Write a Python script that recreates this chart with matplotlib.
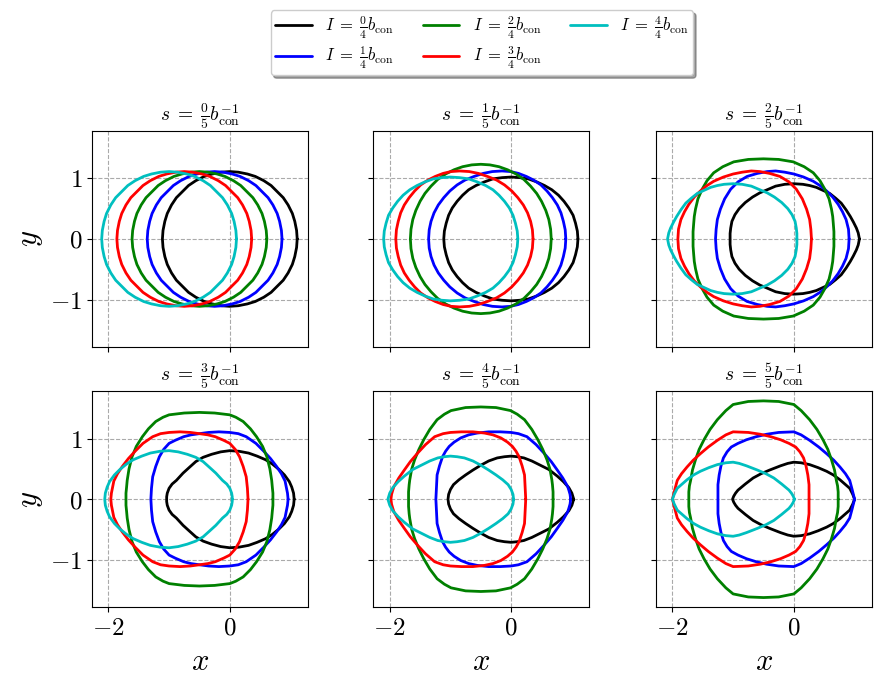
import matplotlib
matplotlib.use('Agg')
import matplotlib.pyplot as plt

plt.rcParams['mathtext.fontset'] = 'cm'
plt.rcParams['font.family'] = 'serif'

# order of curves in every panel: I = 0/4, 1/4, 2/4, 3/4, 4/4
colors = ['k', 'b', 'g', 'r', 'c']
i_labels = [r'$I\;=\;\frac{%d}{4}b_{\rm con}$' % k for k in range(5)]
s_titles = [r'$s\;=\;\frac{%d}{5}b_{\rm con}^{-1}$' % k for k in range(6)]

# upper halves of the closed curves (right end -> left end)
circ_y = [0, 0.14, 0.29, 0.42, 0.56, 0.68, 0.78, 0.88, 0.96, 1.03, 1.07, 1.10, 1.11,
          1.10, 1.07, 1.03, 0.96, 0.88, 0.78, 0.68, 0.56, 0.42, 0.29, 0.14, 0]
x_s0 = [[1.11, 1.10, 1.07, 1.03, 0.96, 0.88, 0.78, 0.68, 0.56, 0.42, 0.29, 0.14, 0.00,
         -0.14, -0.29, -0.42, -0.56, -0.68, -0.78, -0.88, -0.96, -1.03, -1.07, -1.10, -1.11],
        [0.86, 0.85, 0.82, 0.78, 0.71, 0.63, 0.53, 0.43, 0.31, 0.17, 0.04, -0.11, -0.25,
         -0.39, -0.54, -0.67, -0.81, -0.93, -1.03, -1.13, -1.21, -1.28, -1.32, -1.35, -1.36],
        [0.61, 0.60, 0.57, 0.53, 0.46, 0.38, 0.28, 0.18, 0.06, -0.08, -0.21, -0.36, -0.50,
         -0.64, -0.79, -0.92, -1.06, -1.18, -1.28, -1.38, -1.46, -1.53, -1.57, -1.60, -1.61],
        [0.36, 0.35, 0.32, 0.28, 0.21, 0.13, 0.03, -0.07, -0.19, -0.33, -0.46, -0.61, -0.75,
         -0.89, -1.04, -1.17, -1.31, -1.43, -1.53, -1.63, -1.71, -1.78, -1.82, -1.85, -1.86],
        [0.11, 0.10, 0.07, 0.03, -0.04, -0.12, -0.22, -0.32, -0.44, -0.58, -0.71, -0.86, -1.00,
         -1.14, -1.29, -1.42, -1.56, -1.68, -1.78, -1.88, -1.96, -2.03, -2.07, -2.10, -2.11]]
y_s0 = [circ_y] * 5

x_s1 = [[1.10, 1.09, 1.06, 1.02, 0.95, 0.87, 0.78, 0.67, 0.55, 0.42, 0.28, 0.14, 0.00,
         -0.15, -0.30, -0.44, -0.58, -0.70, -0.80, -0.89, -0.97, -1.03, -1.07, -1.10, -1.11],
        [0.90, 0.89, 0.86, 0.82, 0.76, 0.68, 0.59, 0.49, 0.37, 0.25, 0.12, -0.01, -0.15,
         -0.31, -0.46, -0.61, -0.76, -0.89, -1.01, -1.11, -1.20, -1.27, -1.32, -1.35, -1.36],
        [0.66, 0.65, 0.62, 0.57, 0.50, 0.42, 0.32, 0.21, 0.08, -0.06, -0.20, -0.35, -0.50,
         -0.65, -0.80, -0.94, -1.08, -1.21, -1.32, -1.42, -1.50, -1.57, -1.62, -1.65, -1.66],
        [0.36, 0.35, 0.32, 0.27, 0.20, 0.11, 0.01, -0.11, -0.24, -0.39, -0.54, -0.69, -0.85,
         -0.99, -1.12, -1.25, -1.37, -1.49, -1.59, -1.68, -1.76, -1.82, -1.86, -1.89, -1.90],
        [0.11, 0.10, 0.07, 0.03, -0.03, -0.11, -0.20, -0.30, -0.42, -0.56, -0.70, -0.85, -1.00,
         -1.14, -1.28, -1.42, -1.55, -1.67, -1.78, -1.87, -1.95, -2.02, -2.06, -2.09, -2.10]]
y_s1 = [[0, 0.13, 0.26, 0.39, 0.51, 0.62, 0.72, 0.81, 0.88, 0.94, 0.99, 1.01, 1.02,
         1.01, 0.99, 0.94, 0.88, 0.81, 0.72, 0.62, 0.51, 0.39, 0.26, 0.13, 0],
        [0, 0.15, 0.29, 0.43, 0.56, 0.68, 0.79, 0.89, 0.97, 1.03, 1.08, 1.11, 1.12,
         1.11, 1.08, 1.03, 0.97, 0.89, 0.79, 0.68, 0.56, 0.43, 0.29, 0.15, 0],
        [0, 0.16, 0.32, 0.47, 0.62, 0.75, 0.87, 0.98, 1.07, 1.14, 1.19, 1.22, 1.23,
         1.22, 1.19, 1.14, 1.07, 0.98, 0.87, 0.75, 0.62, 0.47, 0.32, 0.16, 0],
        [0, 0.15, 0.29, 0.43, 0.56, 0.68, 0.79, 0.89, 0.97, 1.03, 1.08, 1.11, 1.12,
         1.11, 1.08, 1.03, 0.97, 0.89, 0.79, 0.68, 0.56, 0.43, 0.29, 0.15, 0],
        [0, 0.13, 0.26, 0.39, 0.51, 0.62, 0.72, 0.81, 0.88, 0.94, 0.99, 1.01, 1.02,
         1.01, 0.99, 0.94, 0.88, 0.81, 0.72, 0.62, 0.51, 0.39, 0.26, 0.13, 0]]

x_s2 = [[1.08, 1.06, 1.03, 0.98, 0.93, 0.86, 0.78, 0.69, 0.59, 0.48, 0.37, 0.26, 0.15, 0.00,
         -0.15, -0.30, -0.44, -0.56, -0.68, -0.80, -0.90, -0.97, -1.02, -1.04, -1.05, -1.05],
        [0.91, 0.90, 0.86, 0.80, 0.73, 0.64, 0.54, 0.43, 0.32, 0.16, 0.00, -0.15, -0.30,
         -0.44, -0.60, -0.77, -0.92, -1.04, -1.14, -1.21, -1.26, -1.28, -1.29],
        [0.66, 0.66, 0.65, 0.64, 0.62, 0.58, 0.51, 0.43, 0.32, 0.17, -0.01, -0.25, -0.50,
         -0.75, -0.99, -1.17, -1.32, -1.43, -1.51, -1.58, -1.62, -1.64, -1.65, -1.66, -1.66],
        [0.29, 0.28, 0.26, 0.21, 0.14, 0.04, -0.08, -0.23, -0.40, -0.56, -0.70, -0.85, -1.00,
         -1.16, -1.32, -1.43, -1.54, -1.64, -1.73, -1.80, -1.86, -1.90, -1.91],
        [0.05, 0.05, 0.04, 0.02, -0.03, -0.10, -0.20, -0.32, -0.44, -0.56, -0.70, -0.85, -1.00,
         -1.15, -1.26, -1.37, -1.48, -1.59, -1.69, -1.78, -1.86, -1.93, -1.98, -2.03, -2.06, -2.08]]
y_s2 = [[0, 0.10, 0.18, 0.28, 0.37, 0.48, 0.59, 0.67, 0.75, 0.80, 0.85, 0.88, 0.90, 0.91,
         0.90, 0.87, 0.81, 0.76, 0.69, 0.60, 0.50, 0.40, 0.29, 0.18, 0.09, 0],
        [0, 0.16, 0.32, 0.45, 0.57, 0.69, 0.79, 0.88, 0.95, 1.02, 1.07, 1.10, 1.12,
         1.11, 1.08, 1.03, 0.94, 0.82, 0.66, 0.49, 0.32, 0.16, 0],
        [0, 0.12, 0.25, 0.37, 0.49, 0.66, 0.82, 0.96, 1.09, 1.19, 1.27, 1.31, 1.32,
         1.31, 1.27, 1.19, 1.09, 0.96, 0.82, 0.66, 0.49, 0.37, 0.25, 0.12, 0],
        [0, 0.16, 0.32, 0.49, 0.66, 0.82, 0.94, 1.03, 1.08, 1.11, 1.12, 1.10, 1.07,
         1.02, 0.95, 0.88, 0.79, 0.69, 0.57, 0.45, 0.32, 0.16, 0],
        [0, 0.09, 0.18, 0.29, 0.40, 0.50, 0.60, 0.69, 0.76, 0.81, 0.87, 0.90, 0.91,
         0.90, 0.88, 0.85, 0.80, 0.75, 0.67, 0.59, 0.48, 0.37, 0.28, 0.18, 0.10, 0]]

x_s3 = [[1.06, 1.05, 1.02, 0.98, 0.90, 0.81, 0.70, 0.59, 0.45, 0.31, 0.15, 0.00,
         -0.15, -0.30, -0.44, -0.56, -0.66, -0.77, -0.88, -0.95, -1.00, -1.03, -1.04, -1.04],
        [0.96, 0.95, 0.93, 0.91, 0.85, 0.77, 0.67, 0.56, 0.43, 0.27, 0.14, 0.00, -0.18,
         -0.35, -0.50, -0.64, -0.76, -0.90, -1.00, -1.09, -1.16, -1.22, -1.27, -1.29, -1.30],
        [0.71, 0.71, 0.70, 0.69, 0.66, 0.61, 0.54, 0.44, 0.34, 0.22, 0.10, 0.00, -0.25, -0.50,
         -0.75, -1.00, -1.10, -1.22, -1.34, -1.44, -1.54, -1.61, -1.66, -1.69, -1.70, -1.71, -1.71],
        [0.30, 0.29, 0.27, 0.22, 0.16, 0.09, 0.00, -0.10, -0.24, -0.36, -0.50, -0.65, -0.82,
         -1.00, -1.14, -1.27, -1.43, -1.56, -1.67, -1.77, -1.85, -1.91, -1.93, -1.95, -1.96],
        [0.04, 0.04, 0.03, 0.00, -0.05, -0.12, -0.23, -0.34, -0.44, -0.56, -0.70, -0.85, -1.00,
         -1.15, -1.31, -1.45, -1.59, -1.70, -1.81, -1.90, -1.98, -2.02, -2.05, -2.06]]
y_s3 = [[0, 0.10, 0.20, 0.29, 0.40, 0.49, 0.58, 0.65, 0.71, 0.76, 0.79, 0.80,
         0.78, 0.74, 0.69, 0.62, 0.53, 0.43, 0.31, 0.25, 0.18, 0.10, 0.04, 0],
        [0, 0.10, 0.20, 0.30, 0.42, 0.54, 0.67, 0.79, 0.92, 1.03, 1.08, 1.10, 1.11,
         1.10, 1.08, 1.06, 1.03, 0.97, 0.92, 0.82, 0.70, 0.54, 0.37, 0.18, 0],
        [0, 0.10, 0.20, 0.31, 0.50, 0.70, 0.87, 1.03, 1.16, 1.28, 1.35, 1.39, 1.42, 1.43,
         1.42, 1.39, 1.35, 1.28, 1.16, 1.03, 0.87, 0.70, 0.50, 0.31, 0.20, 0.10, 0],
        [0, 0.18, 0.37, 0.54, 0.70, 0.82, 0.92, 0.97, 1.03, 1.06, 1.08, 1.10, 1.11,
         1.10, 1.08, 1.03, 0.92, 0.79, 0.67, 0.54, 0.42, 0.30, 0.20, 0.10, 0],
        [0, 0.04, 0.10, 0.18, 0.25, 0.31, 0.43, 0.53, 0.62, 0.69, 0.74, 0.78, 0.80,
         0.79, 0.76, 0.71, 0.65, 0.58, 0.49, 0.40, 0.29, 0.20, 0.10, 0]]

x_s4 = [[1.03, 1.00, 0.95, 0.86, 0.76, 0.62, 0.48, 0.34, 0.21, 0.10, 0.00,
         -0.11, -0.23, -0.37, -0.50, -0.63, -0.75, -0.86, -0.95, -1.00, -1.03, -1.04],
        [0.98, 0.97, 0.95, 0.93, 0.85, 0.76, 0.66, 0.54, 0.41, 0.26, 0.12, 0.00, -0.18,
         -0.37, -0.56, -0.70, -0.83, -0.94, -1.02, -1.08, -1.13, -1.18, -1.22, -1.23, -1.24],
        [0.69, 0.69, 0.68, 0.67, 0.64, 0.59, 0.52, 0.44, 0.34, 0.22, 0.10, -0.01, -0.25, -0.50,
         -0.75, -0.99, -1.10, -1.22, -1.34, -1.44, -1.52, -1.59, -1.64, -1.67, -1.68, -1.69, -1.69],
        [0.24, 0.23, 0.22, 0.18, 0.13, 0.08, 0.02, -0.06, -0.17, -0.30, -0.44, -0.63, -0.82,
         -1.00, -1.12, -1.26, -1.41, -1.54, -1.66, -1.76, -1.85, -1.93, -1.95, -1.97, -1.98],
        [0.04, 0.03, 0.00, -0.05, -0.14, -0.25, -0.37, -0.50, -0.63, -0.77, -0.89,
         -1.00, -1.10, -1.21, -1.34, -1.48, -1.62, -1.76, -1.86, -1.95, -2.00, -2.03]]
y_s4 = [[0, 0.10, 0.19, 0.29, 0.38, 0.49, 0.56, 0.63, 0.68, 0.70, 0.71,
         0.70, 0.68, 0.63, 0.56, 0.48, 0.40, 0.32, 0.24, 0.16, 0.08, 0],
        [0, 0.08, 0.15, 0.21, 0.35, 0.48, 0.62, 0.76, 0.90, 1.03, 1.08, 1.10, 1.11,
         1.11, 1.09, 1.06, 1.01, 0.94, 0.87, 0.79, 0.70, 0.55, 0.40, 0.20, 0],
        [0, 0.12, 0.24, 0.32, 0.49, 0.65, 0.82, 0.98, 1.15, 1.31, 1.40, 1.46, 1.51, 1.52,
         1.51, 1.46, 1.40, 1.31, 1.15, 0.98, 0.82, 0.65, 0.49, 0.32, 0.24, 0.12, 0],
        [0, 0.20, 0.40, 0.55, 0.70, 0.79, 0.87, 0.94, 1.01, 1.06, 1.09, 1.11, 1.11,
         1.10, 1.08, 1.03, 0.90, 0.76, 0.62, 0.48, 0.35, 0.21, 0.15, 0.08, 0],
        [0, 0.08, 0.16, 0.24, 0.32, 0.40, 0.48, 0.56, 0.63, 0.68, 0.70,
         0.71, 0.70, 0.68, 0.63, 0.56, 0.49, 0.38, 0.29, 0.19, 0.10, 0]]

x_s5 = [[1.00, 0.97, 0.92, 0.84, 0.76, 0.65, 0.54, 0.40, 0.26, 0.12, 0.00,
         -0.10, -0.22, -0.40, -0.54, -0.67, -0.80, -0.92, -0.96, -0.99, -1.01],
        [1.00, 0.96, 0.92, 0.85, 0.76, 0.66, 0.54, 0.41, 0.26, 0.12, 0.00, -0.25,
         -0.45, -0.62, -0.78, -0.92, -1.03, -1.10, -1.16, -1.20, -1.23, -1.25, -1.25, -1.25],
        [0.73, 0.73, 0.72, 0.70, 0.67, 0.62, 0.56, 0.48, 0.38, 0.26, 0.12, 0.00, -0.25, -0.50,
         -0.75, -1.00, -1.12, -1.26, -1.38, -1.48, -1.56, -1.62, -1.67, -1.70, -1.72, -1.73, -1.73],
        [0.25, 0.25, 0.25, 0.23, 0.20, 0.16, 0.10, 0.03, -0.08, -0.22, -0.38, -0.55, -0.75,
         -1.00, -1.12, -1.26, -1.41, -1.54, -1.66, -1.76, -1.85, -1.92, -1.96, -2.00],
        [0.01, -0.01, -0.04, -0.08, -0.20, -0.33, -0.46, -0.60, -0.78, -0.90, -1.00,
         -1.12, -1.26, -1.40, -1.54, -1.65, -1.76, -1.84, -1.92, -1.97, -2.00]]
y_s5 = [[0, 0.08, 0.18, 0.25, 0.32, 0.40, 0.46, 0.52, 0.57, 0.60, 0.61,
         0.59, 0.55, 0.48, 0.42, 0.35, 0.25, 0.15, 0.10, 0.05, 0],
        [0, 0.16, 0.31, 0.42, 0.53, 0.64, 0.75, 0.86, 0.97, 1.06, 1.11, 1.10,
         1.07, 1.03, 0.98, 0.92, 0.86, 0.78, 0.68, 0.55, 0.40, 0.24, 0.12, 0],
        [0, 0.12, 0.22, 0.31, 0.48, 0.65, 0.82, 0.98, 1.15, 1.31, 1.46, 1.56, 1.61, 1.62,
         1.61, 1.56, 1.46, 1.31, 1.15, 0.98, 0.82, 0.65, 0.48, 0.31, 0.22, 0.12, 0],
        [0, 0.12, 0.24, 0.40, 0.55, 0.68, 0.78, 0.86, 0.92, 0.98, 1.03, 1.07, 1.10,
         1.11, 1.06, 0.97, 0.86, 0.75, 0.64, 0.53, 0.42, 0.31, 0.16, 0],
        [0, 0.05, 0.10, 0.15, 0.25, 0.35, 0.42, 0.48, 0.55, 0.59, 0.61,
         0.60, 0.57, 0.52, 0.46, 0.40, 0.32, 0.25, 0.18, 0.08, 0]]

panels_x = [x_s0, x_s1, x_s2, x_s3, x_s4, x_s5]
panels_y = [y_s0, y_s1, y_s2, y_s3, y_s4, y_s5]

fig = plt.figure(figsize=(8.87, 6.90), dpi=100)

lefts = [0.1037, 0.4209, 0.7396]
bottoms = [0.4971, 0.1199]
w, h = 0.2430, 0.3132

for k in range(6):
    row, col = divmod(k, 3)
    ax = fig.add_axes([lefts[col], bottoms[row], w, h])
    for xs, ys, c, lab in zip(panels_x[k], panels_y[k], colors, i_labels):
        # close the curve by mirroring the upper half into the lower one
        xx = list(xs) + list(xs[-2::-1])
        yy = list(ys) + [-v for v in ys[-2::-1]]
        ax.plot(xx, yy, color=c, lw=2, label=lab,
                solid_joinstyle='round', solid_capstyle='round')
    ax.set_xlim(-2.27, 1.28)
    ax.set_ylim(-1.78, 1.78)
    ax.set_xticks([-2, 0])
    ax.set_yticks([-1, 0, 1])
    ax.grid(True, ls='--', color='#aaaaaa', lw=0.8)
    ax.set_axisbelow(True)
    ax.set_title(s_titles[k], fontsize=14)
    if row == 1:
        ax.set_xticklabels(['$-2$', '$0$'], fontsize=18)
        ax.set_xlabel('$x$', fontsize=22)
    else:
        ax.set_xticklabels([])
    if col == 0:
        ax.set_yticklabels(['$-1$', '$0$', '$1$'], fontsize=18)
        ax.set_ylabel('$y$', fontsize=22)
    else:
        ax.set_yticklabels([])
    if k == 0:
        handles, labels = ax.get_legend_handles_labels()

fig.legend(handles, labels, loc='upper center', bbox_to_anchor=(0.5434, 0.985),
           borderaxespad=0, ncol=3, fontsize=12, handlelength=2.2,
           borderpad=0.25, labelspacing=0.28, columnspacing=1.75,
           shadow=True, fancybox=True)

fig.savefig('out.png', dpi=100)
